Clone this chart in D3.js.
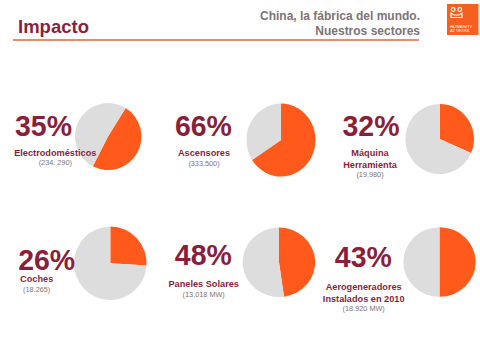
<!DOCTYPE html>
<html><head><meta charset="utf-8">
<style>html,body{margin:0;padding:0;background:#fff}svg{display:block}text{font-family:"Liberation Sans",Arial,sans-serif}</style>
<script src="https://cdn.jsdelivr.net/npm/d3@7/dist/d3.min.js"></script>
</head><body><script>
const percentLabels = ["35%","66%","32%","26%","48%","43%"];
const sectorLines = [["Electrodomésticos"],["Ascensores"],["Máquina","Herramienta"],["Coches"],["Paneles Solares"],["Aerogeneradores","Instalados en 2010"]];
const amounts = ["(234. 290)","(333.500)","(19.980)","(18.265)","(13.018 MW)","(18.920 MW)"];
// share of each pie that is orange, as drawn in the picture (%)
const pieShares = [48.6,65.8,31.6,26,47.8,50];
const pieStarts = [8.9,0,0,0,0,0]; // rotation of the slice, % of a turn
const pieCx = [108,281,439.7,110.3,279,439.5];
const pieCy = [136.5,140,139,263.3,262.3,262];
const pieRx = [33.3,34.5,34.3,36.3,36.3,36.2];
const pieRy = [33.5,36.5,35,36.7,34.7,34.8];
const pctX = [43.5,203.4,371,46.7,203.3,363.3];
const pctY = [135.7,135.7,135.7,270,265,266.7];
const labelX = [55.3,204,370,36.7,203.7,363.7];
const labelY = [155.7,156,155.7,282.3,287.3,290];
const ORANGE="#FF5A1B", GRAY="#DEDDDD", WINE="#8B1F3B", GREY="#7F7377";

const svg=d3.select("body").append("svg").attr("width",480).attr("height",360);
svg.append("rect").attr("width",480).attr("height",360).attr("fill","#fff");

const angle=d3.scaleLinear().domain([0,100]).range([0,2*Math.PI]);
const arc=d3.arc().innerRadius(0).outerRadius(1);
pieShares.forEach((s,i)=>{
  const g=svg.append("g").attr("transform",`translate(${pieCx[i]},${pieCy[i]}) scale(${pieRx[i]},${pieRy[i]})`);
  const pie=d3.pie().sort(null).startAngle(angle(pieStarts[i])).endAngle(angle(pieStarts[i]+100));
  g.selectAll("path").data(pie([s,100-s])).join("path").attr("d",arc).attr("fill",(d,j)=>j?GRAY:ORANGE);
});

svg.append("text").attr("x",18).attr("y",33).attr("font-size",18.5).attr("font-weight",700).attr("fill",WINE).text("Impacto");
svg.append("line").attr("x1",13).attr("x2",419).attr("y1",40).attr("y2",40).attr("stroke","#E0643F").attr("stroke-width",1.4);
[["China, la fábrica del mundo.",20],["Nuestros sectores",34.5]].forEach(([t,y])=>
  svg.append("text").attr("x",420).attr("y",y).attr("text-anchor","end").attr("font-size",12).attr("font-weight",700).attr("fill",GREY).text(t));

// logo
svg.append("rect").attr("x",447).attr("y",4).attr("width",31.5).attr("height",31).attr("fill","#F4601F");
const logo=d3.path();
logo.moveTo(451,13);logo.lineTo(451,17.5);logo.lineTo(462,17.5);logo.lineTo(462,13);logo.lineTo(459,15);logo.lineTo(454,15);logo.closePath();
svg.append("path").attr("d",logo.toString()).attr("fill","none").attr("stroke","#fff").attr("stroke-width",1.1);
[[453.2,9.5],[459.8,9.5]].forEach(([x,y])=>svg.append("circle").attr("cx",x).attr("cy",y).attr("r",1.9).attr("fill","none").attr("stroke","#fff").attr("stroke-width",1.1));
[["HUMANITY",27.5],["AT WORK",32]].forEach(([t,y])=>
  svg.append("text").attr("x",450).attr("y",y).attr("font-size",4.3).attr("fill","#fff").text(t));

percentLabels.forEach((t,i)=>{
  svg.append("text").attr("x",pctX[i]).attr("y",pctY[i]).attr("text-anchor","middle").attr("font-size",30).attr("textLength",57).attr("lengthAdjust","spacingAndGlyphs").attr("font-weight",700).attr("fill",WINE).text(t);
  const lines=sectorLines[i];
  lines.forEach((l,k)=>svg.append("text").attr("x",labelX[i]).attr("y",labelY[i]+k*11.8).attr("text-anchor","middle").attr("font-size",9.2).attr("font-weight",700).attr("fill",WINE).text(l));
  svg.append("text").attr("x",labelX[i]).attr("y",labelY[i]+(lines.length-1)*11.8+9.6).attr("text-anchor","middle").attr("font-size",7.3).attr("fill",GREY).text(amounts[i]);
});
</script></body></html>
